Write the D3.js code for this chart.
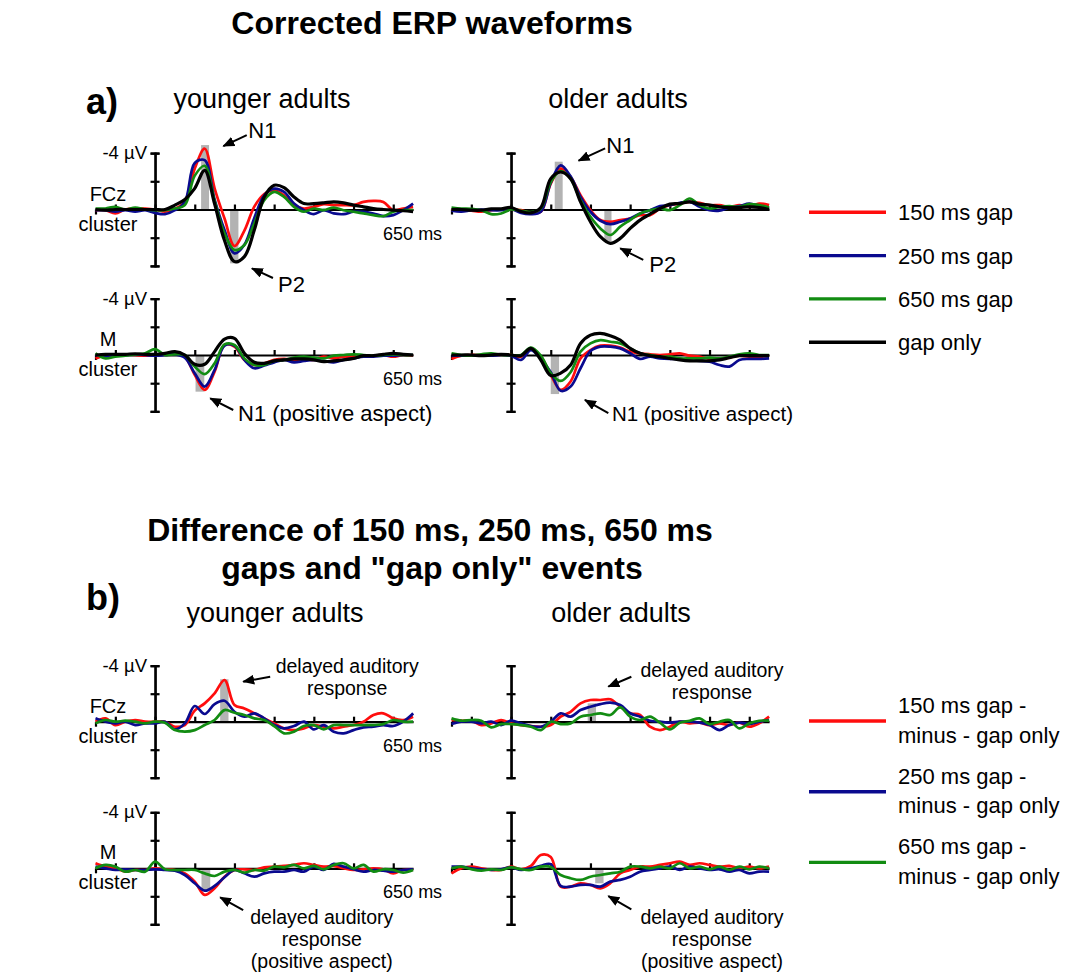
<!DOCTYPE html>
<html>
<head>
<meta charset="utf-8">
<script src="https://cdn.jsdelivr.net/npm/d3@7"></script>
<style>
body { margin: 0; background: #fff; }
text { font-family: "Liberation Sans", Arial, sans-serif; fill: #000; }
</style>
</head>
<body>
<div id="chart"></div>
<script>
// time points (ms) shared by all waveforms
const times = [-150,-125,-100,-75,-50,-25,0,25,50,75,100,125,150,175,200,225,250,275,300,325,350,375,400,425,450,475,500,525,550,575,600,625,650];

// a) corrected ERPs, µV (negative up)
const aYoungFcz150 = [0.05,0.05,0.28,0,-0.07,-0.07,0,0.16,-0.05,-0.54,-2.9,-4.31,-1.5,0.64,2.59,1.5,-0.2,-1.1,-1.36,-1.01,-0.31,-0.07,-0.19,-0.38,-0.31,-0.31,-0.31,-0.54,-0.61,-0.54,0.05,-0.07,-0.19];
const aYoungFcz250 = [0.05,0.05,0.16,0.05,0.16,0.05,0.24,0.33,0.05,-0.54,-3.3,-3.5,-0.7,1.46,3.11,2.5,0.6,-1.01,-1.48,-1.25,-0.42,0.05,0.33,0.05,0.28,0.33,0.16,0.16,0.28,0.47,0.4,0.05,-0.42];
const aYoungFcz650 = [-0.07,-0.07,-0.19,0,-0.14,0,0.05,0.05,-0.07,-0.31,-2.4,-3.1,-0.6,1.7,2.87,2.52,0.99,-0.66,-1.25,-0.89,-0.19,0.16,-0.07,0.05,-0.14,0.05,0.16,0.28,0.4,0.47,0.16,0.05,0.05];
const aYoungFczOnly = [0,0.05,0,0,0,0,0,0,-0.31,-0.71,-1.5,-2.78,-0.4,2.2,3.69,3.34,1.46,-0.89,-1.72,-1.55,-0.89,-0.42,-0.42,-0.47,-0.54,-0.47,-0.31,-0.19,-0.07,0,0.05,0.09,0.16];

const aOldFcz150 = [0.05,0.05,0.09,0.16,0.05,0,0,0.05,0.24,0.16,-1.84,-2.9,-2.3,-1.01,0.05,0.75,0.87,0.75,0.64,0.4,0.4,-0.07,-0.31,-0.42,-0.54,-0.47,-0.31,-0.31,-0.19,-0.31,-0.19,-0.42,-0.31];
const aOldFcz250 = [0.09,0.16,0.05,0,0.05,0.05,-0.05,0.24,0.33,0.16,-1.9,-3.13,-2.35,-0.89,0.16,0.8,1.04,0.87,0.64,0.28,0.05,-0.24,-0.31,-0.47,-0.54,-0.19,0.05,0.09,-0.14,-0.24,-0.42,-0.24,-0.07];
const aOldFcz650 = [-0.14,-0.07,-0.05,0.05,0.33,0.28,0,0.09,0.19,-0.07,-1.95,-2.73,-2.19,-0.66,0.52,1.34,1.81,1.22,0.75,0.28,0.05,-0.07,0.05,-0.31,-0.78,-0.31,-0.07,-0.19,-0.24,-0.19,-0.38,-0.31,-0.14];
const aOldFczOnly = [0,0,0.05,0.05,-0.05,-0.05,-0.14,0.14,0.24,-0.14,-2.19,-2.66,-2.19,-0.54,0.87,1.93,2.4,2.05,1.34,0.75,0.33,-0.07,-0.38,-0.42,-0.54,-0.38,-0.31,-0.19,-0.14,-0.14,-0.19,-0.14,0];

const aYoungM150 = [0.24,0.05,0.05,-0.05,0,0.05,0,-0.05,-0.12,0.12,1.41,2.47,1.18,-0.71,-0.59,0.35,0.71,0.59,0.35,0.28,0.35,0.28,0.35,0.12,0.24,0.12,0.12,0.05,0.05,0,0.12,0,0.05];
const aYoungM250 = [0,0.05,0,0,-0.05,0,0.05,0,-0.05,0.19,1.29,2.24,1.06,-0.66,-0.66,0.35,0.94,0.75,0.52,0.35,0.52,0.42,0.35,0.42,0.52,0.35,0.24,0.12,0.12,0.05,0.05,0,0];
const aYoungM650 = [-0.12,0.24,0.12,0.05,-0.05,-0.12,-0.42,0,-0.05,0,0.82,1.36,0.59,-0.75,-0.71,0.24,0.71,0.71,0.42,0.35,0.19,0.12,0.19,0.24,0.05,0,-0.05,0,0.05,0,-0.05,0,0];
const aYoungMOnly = [0,-0.05,-0.05,-0.05,-0.09,-0.05,-0.05,-0.12,-0.24,0,0.66,0.66,-0.24,-1.13,-1.18,-0.12,0.52,0.59,0.42,0.35,0.28,0.28,0.35,0.47,0.42,0.35,0.24,0.05,0.05,-0.05,-0.12,-0.05,0];

const aOldM150 = [0.28,0.05,0,0,-0.05,0,0,0.12,-0.42,0.12,1.41,2.47,1.88,0.24,-0.35,-0.66,-0.66,-0.52,-0.24,-0.12,-0.05,0,-0.05,-0.12,0.05,0.12,0.28,0.28,0.19,0.05,0.12,0.12,0.05];
const aOldM250 = [0.05,0.05,0.05,0,0.05,0,0.05,0.35,-0.35,0.28,1.22,2.54,2.24,0.94,-0.28,-0.59,-0.59,-0.47,-0.12,0.28,0.12,0.24,0.28,0.28,0.35,0.42,0.47,0.71,0.82,0.35,0.28,0.28,0.24];
const aOldM650 = [-0.12,0,0.05,-0.05,-0.12,0,0,0,-0.52,0.05,1.29,1.84,1.22,-0.24,-0.82,-1.06,-0.94,-0.82,-0.47,-0.12,0,0.12,0.12,0.24,0.24,0.24,0.19,0.24,0.12,-0.05,-0.12,0,0];
const aOldMOnly = [0,0,0,0.05,0,-0.05,0,0.05,-0.47,0.35,1.46,1.29,0.71,-0.82,-1.41,-1.53,-1.36,-1.06,-0.47,-0.12,0.05,0.12,0.24,0.35,0.42,0.42,0.42,0.35,0.19,0.05,0.05,0.05,0.05];

// b) difference waves (gap minus gap only), µV
const bYoungFcz150 = [0,-0.24,0.24,0,-0.12,0,0,0,0.36,0.24,-0.79,-1.31,-2.02,-2.98,-1.19,-0.95,-0.6,-0.24,0.12,0.48,0.6,0.48,0.24,0.36,0.48,0.36,0.24,0,-0.48,-0.6,-0.24,-0.12,-0.36];
const bYoungFcz250 = [-0.24,0,0.12,0,0.24,0.12,0.12,0,0.55,0.12,-1.12,-0.55,-1.26,-1.5,-0.71,-0.36,-0.6,-0.24,0.24,0.48,0.31,0,0.55,0.24,0.71,0.83,0.6,0.4,0.36,0.24,0.31,0,-0.6];
const bYoungFcz650 = [0.12,-0.12,0,-0.07,0,0.12,0,0.07,0.6,0.71,0.6,0.24,-0.12,-0.83,-0.64,-0.48,-0.24,-0.12,0.31,0.83,0.71,0.31,0.24,0.55,0.24,0.24,0.24,0.24,0.24,0.17,-0.12,0,0];

const bOldFcz150 = [-0.12,-0.07,-0.07,0.24,0.12,-0.12,0.12,0.24,0.31,0.36,0.24,-0.36,-0.71,-1.31,-1.55,-1.55,-1.6,-1.07,-0.6,-0.48,0.36,0.6,0.36,0,0.12,0.07,0.24,0.12,0.24,0.07,0.36,0.12,-0.36];
const bOldFcz250 = [0.17,0,0,0.12,0,0.24,-0.07,0.12,0.31,0.36,0,-0.6,-0.36,-0.83,-1.07,-1.26,-1.36,-1.19,-0.6,-0.36,-0.07,0,0.07,0,0,0.07,0.24,0.6,0.24,0.07,0.17,0,-0.12];
const bOldFcz650 = [-0.24,-0.07,-0.12,-0.07,0.4,0.17,0.17,0.24,0.36,0.6,0,0.17,0.12,-0.36,-0.48,-0.6,-0.48,-1.02,-0.36,-0.12,-0.36,0.07,0.55,0.07,-0.07,-0.24,0.17,0,-0.12,0.48,0.12,-0.07,-0.07];

const bYoungM150 = [-0.36,-0.12,0,0.24,0.12,0.12,0,0.07,0.12,0.36,0.95,1.9,1.43,0.6,0.12,0.07,0.12,-0.07,-0.12,-0.17,-0.24,-0.36,-0.24,-0.12,-0.17,0,0.12,0.07,0,0.07,0.36,0.12,0.12];
const bYoungM250 = [-0.12,0,0.12,0.07,0.12,0.12,0.07,0.12,0.17,0.48,1.07,1.6,1.26,0.64,0.12,0.36,0.6,0.36,0.24,0.24,0.12,0.24,-0.12,0.12,-0.31,-0.12,0.07,0.24,0.12,0.17,0.24,0.12,0.07];
const bYoungM650 = [0,-0.24,-0.12,0.24,0.12,0.24,-0.48,0.07,0.12,0.12,0.12,0.36,0.55,0.24,0.12,0.31,0.12,0.17,-0.12,-0.07,-0.24,0,-0.17,0.07,-0.24,-0.36,0,-0.24,0.24,0.07,0.12,0.31,0.12];

const bOldM150 = [0.36,0,-0.12,0,0.12,0.12,-0.12,0.07,-0.17,-0.95,-0.8,1.31,1.31,1.07,1.19,1.43,1.07,0.36,0.12,-0.12,-0.12,-0.24,-0.36,-0.48,-0.24,-0.36,-0.24,-0.12,-0.17,0,-0.12,0,-0.12];
const bOldM250 = [-0.12,-0.12,0,0.07,0.12,0.07,-0.07,0.12,0,-0.17,-0.3,1.26,1.31,1.19,1.19,1.31,0.95,0.83,0.6,0.24,0.12,0,-0.12,0.12,-0.12,0,0.12,0.07,0.24,0.12,0.36,0.24,0.24];
const bOldM650 = [0,-0.12,0.07,0.17,0.07,0.12,-0.07,0.07,0.12,-0.12,-0.1,0.48,0.71,0.83,0.6,0.48,0.36,0.24,-0.12,-0.12,0,-0.12,0,-0.36,0,-0.12,0.07,-0.12,0.12,-0.12,0.07,-0.12,0];

// grey analysis windows: [start ms, end ms, µV]
const aYoungFczWin = [[116,136,-4.57],[189,210,3.82]];
const aOldFczWin = [[110,130,-3.39],[235,253,2.28]];
const aYoungMWin = [[102,124,2.6]];
const aOldMWin = [[100,121,2.77]];
const bYoungFczWin = [[164,185,-3.03]];
const bOldFczWin = [[193,214,-1.31]];
const bYoungMWin = [[117,139,1.55]];
const bOldMWin = [[212,233,1.07]];

const legendA = ["150 ms gap", "250 ms gap", "650 ms gap", "gap only"];
const legendB = [["150 ms gap -", "minus - gap only"], ["250 ms gap -", "minus - gap only"], ["650 ms gap -", "minus - gap only"]];
const xTicks = [-100,0,100,200,300,400,500,600];
const yTicks = [-4,-2,0,2,4];

const colors = ["#ff0d0d", "#0a0a8f", "#128c12", "#000000"];
const pxPerMs = 0.397;

const svg = d3.select("#chart").append("svg")
    .attr("width", 1083)
    .attr("height", 972);

svg.append("defs").append("marker")
    .attr("id", "arrow")
    .attr("markerUnits", "userSpaceOnUse")
    .attr("markerWidth", 12).attr("markerHeight", 10)
    .attr("refX", 11).attr("refY", 5)
    .attr("orient", "auto")
    .append("path")
    .attr("d", "M0,0 L12,5 L0,10 z")
    .attr("fill", "#000");

const panels = [
    {x0: 95.5, zero: 209.5, k: 14.1, series: [aYoungFcz150, aYoungFcz250, aYoungFcz650, aYoungFczOnly], win: aYoungFczWin,
     label: ["FCz", "cluster"], young: true,
     notes: [{tip: [172, -4.5], tail: [231, -5.28], at: [235, -5.1], lines: ["N1"], anchor: "start", size: 22},
             {tip: [244, 4.17], tail: [297, 4.86], at: [310, 5.85], lines: ["P2"], anchor: "start", size: 22}]},
    {x0: 451.5, zero: 209.5, k: 14.1, series: [aOldFcz150, aOldFcz250, aOldFcz650, aOldFczOnly], win: aOldFczWin,
     notes: [{tip: [170, -3.46], tail: [237, -4.34], at: [240, -4.0], lines: ["N1"], anchor: "start", size: 22},
             {tip: [275, 2.75], tail: [333, 3.58], at: [348, 4.45], lines: ["P2"], anchor: "start", size: 22}]},
    {x0: 95.5, zero: 355, k: 14.1, series: [aYoungM150, aYoungM250, aYoungM650, aYoungMOnly], win: aYoungMWin,
     label: ["M", "cluster"], young: true,
     notes: [{tip: [139, 3.07], tail: [197, 3.9], at: [209, 4.68], lines: ["N1 (positive aspect)"], anchor: "start", size: 22}]},
    {x0: 451.5, zero: 355, k: 14.1, series: [aOldM150, aOldM250, aOldM650, aOldMOnly], win: aOldMWin,
     notes: [{tip: [186, 3.19], tail: [245, 4.13], at: [254, 4.68], lines: ["N1 (positive aspect)"], anchor: "start", size: 20.5}]},
    {x0: 95.5, zero: 721.7, k: 14, series: [bYoungFcz150, bYoungFcz250, bYoungFcz650], win: bYoungFczWin,
     label: ["FCz", "cluster"], young: true,
     notes: [{tip: [222, -2.86], tail: [290, -3.21], at: [484, -3.5], lines: ["delayed auditory", "response"], anchor: "middle", size: 19.5}]},
    {x0: 451.5, zero: 721.7, k: 14, series: [bOldFcz150, bOldFcz250, bOldFcz650], win: bOldFczWin,
     notes: [{tip: [245, -2.5], tail: [303, -3.21], at: [506, -3.2], lines: ["delayed auditory", "response"], anchor: "middle", size: 19.5}]},
    {x0: 95.5, zero: 868.3, k: 14, series: [bYoungM150, bYoungM250, bYoungM650], win: bYoungMWin,
     label: ["M", "cluster"], young: true,
     notes: [{tip: [164, 2.07], tail: [222, 2.98], at: [420, 3.95], lines: ["delayed auditory", "response", "(positive aspect)"], anchor: "middle", size: 19.5}]},
    {x0: 451.5, zero: 868.3, k: 14, series: [bOldM150, bOldM250, bOldM650], win: bOldMWin,
     notes: [{tip: [245, 1.98], tail: [303, 2.93], at: [506, 3.95], lines: ["delayed auditory", "response", "(positive aspect)"], anchor: "middle", size: 19.5}]}
];

function drawPanel(p) {
    const x = d3.scaleLinear()
        .domain([times[0], times[times.length - 1]])
        .range([p.x0, p.x0 + (times[times.length - 1] - times[0]) * pxPerMs]);
    const y = d3.scaleLinear()
        .domain([-4, 4])
        .range([p.zero - 4 * p.k, p.zero + 4 * p.k]);
    const g = svg.append("g");

    // grey windows behind everything
    g.selectAll("rect")
        .data(p.win)
        .join("rect")
        .attr("x", d => x(d[0]))
        .attr("width", d => x(d[1]) - x(d[0]))
        .attr("y", d => Math.min(y(d[2]), y(0)))
        .attr("height", d => Math.abs(y(d[2]) - y(0)))
        .attr("fill", "#b3b3b3");

    // time axis, ticks pointing up
    const xa = g.append("g")
        .attr("transform", `translate(0,${y(0)})`)
        .call(d3.axisBottom(x).tickValues(xTicks).tickSizeInner(-5).tickSizeOuter(0).tickFormat(""));
    const cap = g.append("g")
        .attr("transform", `translate(0,${y(0)})`)
        .call(d3.axisBottom(x).tickValues([times[0]]).tickSizeInner(5).tickSizeOuter(0).tickFormat(""));
    cap.select(".domain").remove();

    // voltage axis, ticks on both sides
    const yl = g.append("g")
        .attr("transform", `translate(${x(0)},0)`)
        .call(d3.axisLeft(y).tickValues(yTicks).tickSize(4.5).tickFormat(""));
    const yr = g.append("g")
        .attr("transform", `translate(${x(0)},0)`)
        .call(d3.axisRight(y).tickValues(yTicks).tickSize(4.5).tickFormat(""));
    [xa, cap, yl, yr].forEach(a => a.selectAll("path, line").attr("stroke", "#000").attr("stroke-width", 2.2));

    const line = d3.line()
        .x((d, i) => x(times[i]))
        .y(d => y(d))
        .curve(d3.curveCatmullRom.alpha(0.5));

    g.selectAll("path.wave")
        .data(p.series)
        .join("path")
        .attr("class", "wave")
        .attr("d", line)
        .attr("fill", "none")
        .attr("stroke", (d, i) => colors[i])
        .attr("stroke-width", (d, i) => i === 3 ? 3.2 : 2.7)
        .attr("stroke-linejoin", "round");

    if (p.young) {
        g.append("text")
            .attr("x", x(0) - 8).attr("y", y(-4) + 6)
            .attr("text-anchor", "end")
            .attr("font-size", 18.5)
            .text("-4 µV");
        g.append("text")
            .attr("x", x(650) - 30).attr("y", y(0) + 30)
            .attr("font-size", 18)
            .text("650 ms");
    }
    if (p.label) {
        g.append("text")
            .attr("x", 108).attr("y", y(0) - 9)
            .attr("text-anchor", "middle").attr("font-size", 20)
            .text(p.label[0]);
        g.append("text")
            .attr("x", 108).attr("y", y(0) + 21)
            .attr("text-anchor", "middle").attr("font-size", 20)
            .text(p.label[1]);
    }

    p.notes.forEach(n => {
        g.append("line")
            .attr("x1", x(n.tail[0])).attr("y1", y(n.tail[1]))
            .attr("x2", x(n.tip[0])).attr("y2", y(n.tip[1]))
            .attr("stroke", "#000").attr("stroke-width", 2)
            .attr("marker-end", "url(#arrow)");
        n.lines.forEach((s, i) => {
            g.append("text")
                .attr("x", x(n.at[0]))
                .attr("y", y(n.at[1]) + i * 22)
                .attr("text-anchor", n.anchor)
                .attr("font-size", n.size)
                .text(s);
        });
    });
}

panels.forEach(drawPanel);

// headings
svg.append("text").attr("x", 432).attr("y", 34).attr("text-anchor", "middle")
    .attr("font-size", 32).attr("font-weight", "bold").text("Corrected ERP waveforms");
svg.append("text").attr("x", 86).attr("y", 114)
    .attr("font-size", 36).attr("font-weight", "bold").text("a)");
svg.append("text").attr("x", 262).attr("y", 108).attr("text-anchor", "middle")
    .attr("font-size", 27).text("younger adults");
svg.append("text").attr("x", 618).attr("y", 108).attr("text-anchor", "middle")
    .attr("font-size", 27).text("older adults");

svg.append("text").attr("x", 430).attr("y", 541).attr("text-anchor", "middle")
    .attr("font-size", 32).attr("font-weight", "bold").text("Difference of 150 ms, 250 ms, 650 ms");
svg.append("text").attr("x", 432).attr("y", 579).attr("text-anchor", "middle")
    .attr("font-size", 32).attr("font-weight", "bold").text("gaps and \"gap only\" events");
svg.append("text").attr("x", 86).attr("y", 610)
    .attr("font-size", 36).attr("font-weight", "bold").text("b)");
svg.append("text").attr("x", 275).attr("y", 622).attr("text-anchor", "middle")
    .attr("font-size", 27).text("younger adults");
svg.append("text").attr("x", 621).attr("y", 622).attr("text-anchor", "middle")
    .attr("font-size", 27).text("older adults");

// legends
const legA = svg.append("g").selectAll("g")
    .data(legendA)
    .join("g")
    .attr("transform", (d, i) => `translate(809,${212.3 + i * 43.3})`);
legA.append("line").attr("x1", 0).attr("x2", 77)
    .attr("stroke", (d, i) => colors[i]).attr("stroke-width", 3.4);
legA.append("text").attr("x", 89).attr("y", 8)
    .attr("font-size", 22).text(d => d);

const legB = svg.append("g").selectAll("g")
    .data(legendB)
    .join("g")
    .attr("transform", (d, i) => `translate(809,${721 + i * 70.7})`);
legB.append("line").attr("x1", 0).attr("x2", 77)
    .attr("stroke", (d, i) => colors[i]).attr("stroke-width", 3.4);
legB.append("text").attr("x", 89).attr("y", -8)
    .attr("font-size", 22).text(d => d[0]);
legB.append("text").attr("x", 89).attr("y", 21.5)
    .attr("font-size", 22).text(d => d[1]);
</script>
</body>
</html>
